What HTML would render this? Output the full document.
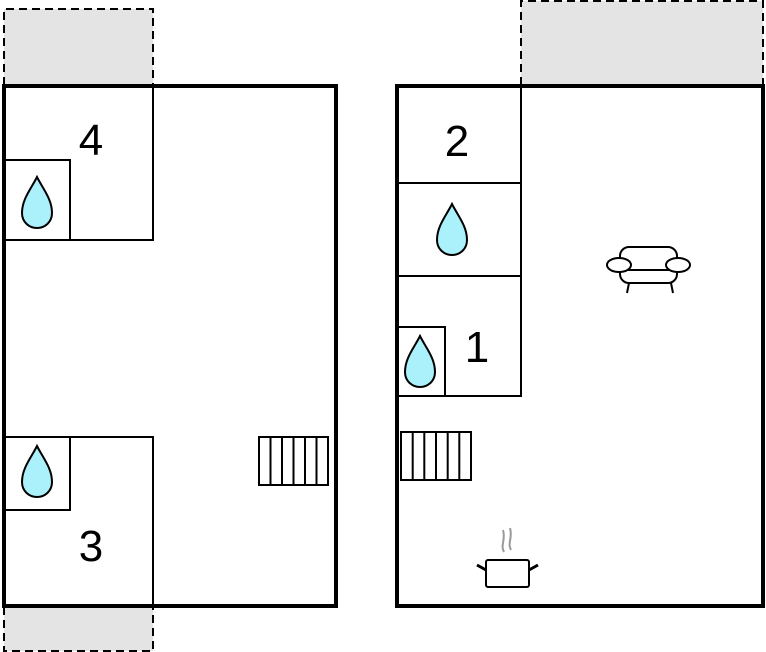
<!DOCTYPE html>
<html><head><style>body{margin:0;background:#fff}svg{display:block}</style></head><body>
<svg width="766" height="652" xmlns="http://www.w3.org/2000/svg" font-family="Liberation Sans, sans-serif">
<defs>
<path id="drop" d="M0,-26 C-6,-14 -15,-4 -15,10 C-15,19 -8,25 0,25 C8,25 15,19 15,10 C15,-4 6,-14 0,-26Z" fill="#aaf1fb" stroke="#000" stroke-width="2"/>
</defs>
<!-- dashed extensions -->
<g fill="#e4e4e4" stroke="#000" stroke-width="2" stroke-dasharray="8,5">
<path d="M4,85 V9 H153 V85"/>
<path d="M4,607 V651 H153 V607"/>
<path d="M521,85 V1 H763 V85"/>
</g>
<!-- left building -->
<rect x="4" y="86" width="332" height="520" fill="#fff" stroke="#000" stroke-width="4"/>
<g fill="none" stroke="#000" stroke-width="2">
<path d="M153,86 V240 H4"/>
<path d="M4,160 H70 V240"/>
<path d="M4,437 H153 V606"/>
<path d="M70,437 V510 H4"/>
<rect x="259" y="437" width="69" height="48"/>
<path d="M270.5,437V485M282,437V485M293.5,437V485M305,437V485M316.5,437V485"/>
</g>
<use href="#drop" x="37" y="203"/>
<use href="#drop" x="37" y="472"/>
<text x="91" y="155" font-size="44" text-anchor="middle">4</text>
<text x="91" y="561" font-size="44" text-anchor="middle">3</text>
<!-- right building -->
<rect x="397" y="86" width="366" height="520" fill="#fff" stroke="#000" stroke-width="4"/>
<g fill="none" stroke="#000" stroke-width="2">
<path d="M521,86 V396 H397"/>
<path d="M397,183 H521 M397,276 H521"/>
<path d="M397,327 H445 V396"/>
<rect x="401" y="432" width="70" height="48"/>
<path d="M412.7,432V480M424.3,432V480M436,432V480M447.7,432V480M459.3,432V480"/>
</g>
<use href="#drop" x="452" y="230"/>
<use href="#drop" x="420" y="362"/>
<text x="457" y="156" font-size="44" text-anchor="middle">2</text>
<text x="477" y="362" font-size="44" text-anchor="middle">1</text>
<!-- sofa -->
<g fill="#fff" stroke="#000" stroke-width="2">
<rect x="620" y="247" width="57" height="36" rx="9"/>
<line x1="628" y1="270" x2="670" y2="270"/>
<ellipse cx="619" cy="265" rx="12" ry="7"/>
<ellipse cx="678" cy="265" rx="12" ry="7"/>
<path d="M629,283 L627,293 M671,283 L673,293" fill="none"/>
</g>
<!-- pot -->
<g fill="none">
<path d="M504,552 C500,545 506,540 503,530 M511,550 C507,543 513,538 510,528" stroke="#999" stroke-width="2"/>
<rect x="486" y="560" width="43" height="27" rx="2" fill="#fff" stroke="#000" stroke-width="2"/>
<path d="M486,570 L477,565 M529,570 L538,565" stroke="#000" stroke-width="3"/>
</g>
</svg>
</body></html>
